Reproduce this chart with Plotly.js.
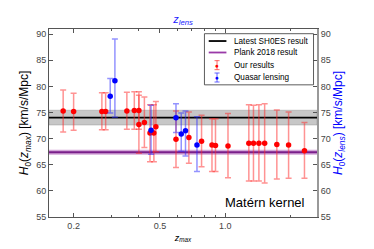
<!DOCTYPE html>
<html><head><meta charset="utf-8">
<script src="https://cdn.plot.ly/plotly-3.0.1.min.js"></script>
<style>html,body{margin:0;padding:0;background:#fff;}</style>
</head><body>
<div id="chart" style="width:374px;height:249px;"></div>
<script>
// ---- Data ----
const zMax      = [0.179,0.200,0.270,0.281,0.352,0.381,0.400,0.400,0.424,0.450,0.469,0.479,0.593,0.680,0.778,0.869,0.902,1.03,1.285,1.35,1.43,1.52,1.73,1.96,2.32];
const h0Ours    = [75.3,75.2,75.2,75.2,75.3,75.4,75.4,72.7,73.1,71.1,71.1,72.3,69.9,70.2,69.5,68.8,68.7,68.6,69.1,69.1,69.1,69.1,68.9,68.8,67.7];
const h0OursHi  = [79.3,78.7,78.8,78.8,78.9,79.0,79.0,78.3,78.0,76.5,76.5,77.1,75.3,75.1,74.5,73.8,73.8,74.8,76.5,76.4,76.5,76.7,75.5,75.1,73.1];
const h0OursLo  = [71.3,71.6,71.7,71.7,71.8,71.8,71.8,67.2,68.3,65.6,65.6,67.5,64.5,65.3,64.6,63.7,63.7,62.5,61.9,61.9,61.9,61.5,62.3,62.4,62.4];

const zLens     = [0.295,0.310,0.455,0.593,0.627,0.656,0.741];
const h0Lens    = [78.1,81.1,71.6,74.0,70.9,71.5,68.8];
const h0LensHi  = [81.5,89.1,76.4,76.7,74.9,75.3,74.2];
const h0LensLo  = [74.9,74.1,67.0,71.2,67.6,66.7,63.7];

const sh0es = 74.03, sh0esErr = 1.42;
const planck = 67.4, planckErr = 0.5;

const xTickVals = [0.2, 0.5, 1.0];
const xTickText = ['0.2', '0.5', '1.0'];
const xMinorVals = [0.3, 0.4, 0.6, 0.7, 0.8, 0.9, 2.0];
const yTickVals = [55, 60, 65, 70, 75, 80, 85, 90];

const legendLabels = ['Latest SH0ES result', 'Plank 2018 result', 'Our results', 'Quasar lensing'];

// ---- Styles ----
const FONT = 'Liberation Sans, Arial, sans-serif';
const xr = [Math.log10(0.154), Math.log10(2.65)];
const yr = [55, 91];
const tickColor = '#444';

function diff(a, b) { return a.map((v, i) => v - b[i]); }

const traces = [
  {
    x: zMax, y: h0Ours, type: 'scatter', mode: 'markers', name: legendLabels[2],
    marker: {color: '#ff0000', size: 5.5},
    error_y: {type: 'data', symmetric: false, array: diff(h0OursHi, h0Ours), arrayminus: diff(h0Ours, h0OursLo),
              color: 'rgba(255,40,40,0.5)', thickness: 1.5, width: 3}
  },
  {
    x: zLens, y: h0Lens, type: 'scatter', mode: 'markers', name: legendLabels[3],
    xaxis: 'x2', yaxis: 'y2',
    marker: {color: '#0000ff', size: 5.5},
    error_y: {type: 'data', symmetric: false, array: diff(h0LensHi, h0Lens), arrayminus: diff(h0Lens, h0LensLo),
              color: 'rgba(40,40,255,0.5)', thickness: 1.5, width: 3}
  }
];

const axisCommon = {
  showgrid: false, zeroline: false, showline: true, linecolor: '#555', linewidth: 1,
  ticks: 'inside', ticklen: 4, tickcolor: '#555',
  tickfont: {family: FONT, size: 9, color: tickColor}
};

const ph = 249 - 29 - 32, pw = 374 - 49 - 57;
const lx = 0.627, ly = [0.936, 0.875, 0.808, 0.742];
const ebH = 4.5 / ph, capW = 2.5 / pw;

const shapes = [
  {type: 'rect', xref: 'paper', yref: 'y', x0: 0, x1: 1, y0: sh0es - sh0esErr, y1: sh0es + sh0esErr,
   fillcolor: 'rgba(130,130,130,0.45)', line: {width: 0.5, color: 'rgba(110,110,110,0.6)'}, layer: 'below'},
  {type: 'line', xref: 'paper', yref: 'y', x0: 0, x1: 1, y0: sh0es, y1: sh0es, line: {color: '#000', width: 1.8}, layer: 'below'},
  {type: 'rect', xref: 'paper', yref: 'y', x0: 0, x1: 1, y0: planck - planckErr, y1: planck + planckErr,
   fillcolor: 'rgba(160,60,170,0.45)', line: {width: 0}, layer: 'below'},
  {type: 'line', xref: 'paper', yref: 'y', x0: 0, x1: 1, y0: planck, y1: planck, line: {color: '#7a1f8a', width: 1.8}, layer: 'below'},
  // legend box
  {type: 'rect', xref: 'paper', yref: 'paper', x0: 0.58, x1: 0.987, y0: 0.703, y1: 0.975,
   fillcolor: '#fff', line: {color: '#333', width: 0.8}},
  {type: 'line', xref: 'paper', yref: 'paper', x0: 0.596, x1: 0.662, y0: ly[0], y1: ly[0], line: {color: '#000', width: 1.8}},
  {type: 'line', xref: 'paper', yref: 'paper', x0: 0.596, x1: 0.662, y0: ly[1], y1: ly[1], line: {color: '#9a3aa8', width: 1.8}},
];
[[ly[2], 'rgba(255,40,40,0.6)'], [ly[3], 'rgba(40,40,255,0.6)']].forEach(([yy, c]) => {
  shapes.push({type: 'line', xref: 'paper', yref: 'paper', x0: lx, x1: lx, y0: yy - ebH, y1: yy + ebH, line: {color: c, width: 1.2}});
  shapes.push({type: 'line', xref: 'paper', yref: 'paper', x0: lx - capW, x1: lx + capW, y0: yy - ebH, y1: yy - ebH, line: {color: c, width: 1.2}});
  shapes.push({type: 'line', xref: 'paper', yref: 'paper', x0: lx - capW, x1: lx + capW, y0: yy + ebH, y1: yy + ebH, line: {color: c, width: 1.2}});
});

const annotations = legendLabels.map((t, i) => ({
  xref: 'paper', yref: 'paper', x: 0.682, y: ly[i], xanchor: 'left', yanchor: 'middle',
  text: t, showarrow: false, font: {family: FONT, size: 8.2, color: '#000'}
}));
annotations.push({xref: 'paper', yref: 'paper', x: lx, y: ly[2], text: '●', showarrow: false,
  font: {size: 6.5, color: '#ff0000'}, xanchor: 'center', yanchor: 'middle'});
annotations.push({xref: 'paper', yref: 'paper', x: lx, y: ly[3], text: '●', showarrow: false,
  font: {size: 6.5, color: '#0000ff'}, xanchor: 'center', yanchor: 'middle'});
annotations.push({xref: 'paper', yref: 'paper', x: 0.807, y: 0.078, text: 'Matérn kernel', showarrow: false,
  font: {family: FONT, size: 13, color: '#000'}, xanchor: 'center', yanchor: 'middle'});

const layout = {
  width: 374, height: 249,
  margin: {l: 49, r: 57, t: 29, b: 32},
  paper_bgcolor: '#fff', plot_bgcolor: '#fff',
  showlegend: false,
  font: {family: FONT},
  xaxis: Object.assign({}, axisCommon, {
    type: 'log', range: xr, tickmode: 'array', tickvals: xTickVals, ticktext: xTickText,
    minor: {tickmode: 'array', tickvals: xMinorVals, ticks: 'inside', ticklen: 2, tickcolor: '#555'},
    title: {text: '<i>z<sub>max</sub></i>', font: {family: FONT, size: 9, color: '#000'}, standoff: 4}
  }),
  xaxis2: Object.assign({}, axisCommon, {
    type: 'log', range: xr, overlaying: 'x', side: 'top', tickmode: 'array', tickvals: xTickVals,
    showticklabels: false,
    minor: {tickmode: 'array', tickvals: xMinorVals, ticks: 'inside', ticklen: 2, tickcolor: '#555'},
    title: {text: '<i>z<sub>lens</sub></i>', font: {family: FONT, size: 11, color: '#2020ff'}, standoff: 2}
  }),
  yaxis: Object.assign({}, axisCommon, {
    range: yr, tickmode: 'array', tickvals: yTickVals,
    title: {text: '<i>H</i><sub>0</sub>(<i>z<sub>max</sub></i>) [km/s/Mpc]', font: {family: FONT, size: 12, color: '#000'}, standoff: 4}
  }),
  yaxis2: Object.assign({}, axisCommon, {
    range: yr, overlaying: 'y', side: 'right', tickmode: 'array', tickvals: yTickVals,
    linecolor: '#999', linewidth: 2,
    title: {text: '<i>H</i><sub>0</sub>(<i>z<sub>lens</sub></i>) [km/s/Mpc]', font: {family: FONT, size: 12, color: '#0000ff'}, standoff: 4}
  }),
  shapes: shapes,
  annotations: annotations
};

Plotly.newPlot('chart', traces, layout, {staticPlot: true, displayModeBar: false});
</script>
</body></html>
